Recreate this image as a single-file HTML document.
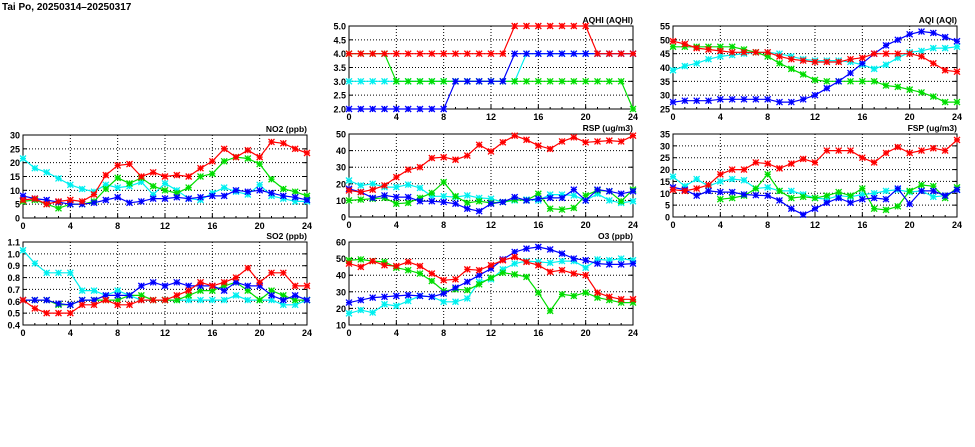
<!DOCTYPE html>
<html><head><meta charset="utf-8"><style>
html,body{margin:0;padding:0;background:#fff;width:975px;height:447px;overflow:hidden}
svg text{font-family:"Liberation Sans",sans-serif;font-weight:bold;fill:#000}
</style></head><body>
<svg id="s" width="975" height="447" xmlns="http://www.w3.org/2000/svg">
<text x="2" y="10" font-size="10" font-weight="normal">Tai Po, 20250314–20250317</text>
</svg>
<script>
var N=null;
var panels=[
{x:23,y:135,lab:"NO2 (ppb)",min:0,max:30,step:5,dec:0,d:{
c:[21.5,18,16.5,14.3,12,10.5,9.5,12,11,11.5,13,8.5,12.5,10,7,6.5,9,11,9.5,8.5,12,8,7,6,6],
g:[6,6.5,5,3.5,5,5,6,10.5,14.5,12.5,14.5,11.5,10,9,11,15,16,20.5,22,21.5,19.5,14,10.5,9.5,8],
b:[8,7,6.5,5.7,5,5,5.5,6.5,7.5,5.5,6,7,7,7.5,7,7.5,8,8,10,9.5,10,9,8,7.5,6.5],
r:[6.5,7,5,6,6.5,6,8.5,15.5,19,19.5,15,16.5,15,15.5,15,18,20.5,25,22,24.5,22,27.5,27,25,23.5]}},
{x:23,y:242,lab:"SO2 (ppb)",min:0.4,max:1.1,step:0.1,dec:1,d:{
c:[1.03,.92,.84,.84,.84,.69,.69,.65,.69,.65,.61,.61,.61,.61,.61,.61,.61,.61,.65,.61,.61,.61,.57,.57,.61],
g:[.61,.61,.61,.57,.57,.61,.61,.61,.61,.65,.65,.61,.61,.61,.65,.69,.69,.73,.76,.69,.61,.69,.65,.61,.61],
b:[.61,.61,.61,.58,.57,.61,.61,.65,.65,.65,.73,.76,.73,.76,.73,.73,.73,.69,.76,.73,.73,.65,.61,.65,.61],
r:[.61,.54,.5,.5,.5,.57,.57,.61,.57,.57,.61,.61,.61,.65,.69,.76,.73,.76,.80,.88,.76,.84,.84,.73,.73]}},
{x:349,y:26,lab:"AQHI (AQHI)",min:2,max:5,step:0.5,dec:1,d:{
c:[3,3,3,3,3,3,3,3,3,3,3,3,3,3,3,4,4,4,4,4,4,4,4,4,4],
g:[4,4,4,4,3,3,3,3,3,3,3,3,3,3,3,3,3,3,3,3,3,3,3,3,2],
b:[2,2,2,2,2,2,2,2,2,3,3,3,3,3,4,4,4,4,4,4,4,4,4,4,4],
r:[4,4,4,4,4,4,4,4,4,4,4,4,4,4,5,5,5,5,5,5,5,4,4,4,4]}},
{x:349,y:134,lab:"RSP (ug/m3)",min:0,max:50,step:10,dec:0,d:{
c:[22,19,20,18,18,19.5,17.5,12.5,12.5,12,13,11.5,11,9,10,10.5,10,13.5,13.5,13,10,14,10,8.5,9.5],
g:[10,10.5,11,11.5,8,8.5,11.5,14.5,21,12.5,8.5,9.5,8.5,9,10.5,10,14,5,4.5,5.5,13,16,15.5,9.5,16.5],
b:[17,15,11.5,13,12,12,9.5,9.5,9,8,5,3.5,8,9,12,10,11,11.5,11.5,16.5,10,16.5,15.5,14,15.5],
r:[16,15,16.5,19,24,28.5,30,35.5,36,34.5,37,43.5,39.5,45,49,46.5,43,41,45.5,48,45,45.5,46,45.5,49]}},
{x:349,y:242,lab:"O3 (ppb)",min:10,max:60,step:10,dec:0,d:{
c:[17,19,17.5,22.5,21.5,24.5,27.5,27,24,24,26,36,37.5,43.5,47,48.5,48,47.5,48.5,48.5,44.5,49.5,49,50,49],
g:[49,49.5,48.5,48,44.5,43,41,36.5,30.5,31.5,31,34.5,38.5,41.5,40.5,39,29.5,18.5,28.5,27.5,29.5,26.5,25,23.5,23.5],
b:[23.5,25,26.5,27,27.5,28,27.5,27,29,32.5,36,40,44,49.5,54,56,57,55.5,53,50,49,47,46.5,46.5,47],
r:[47,45,48.5,46,45.5,48,45.5,41,37,37.5,43.5,43,46,49,51,48,46,42,43,41,40,29.5,27,25.5,25.5]}},
{x:673,y:26,lab:"AQI (AQI)",min:25,max:55,step:5,dec:0,d:{
c:[39,40.5,41.5,43,44,44.5,45,45.5,45.5,45,44,43,42.5,42.5,42.5,42,41,39.5,41,43.5,45.5,46,47,47,47.5],
g:[47.5,47.5,47.5,47.5,47.5,47.5,46.5,45.5,44,41.5,39.5,37.5,35.5,35,35,35,35,35,33.5,33,32,31,29.5,27.5,27.5],
b:[27.5,28,28,28,28.5,28.5,28.5,28.5,28.5,27.5,27.5,28.5,30,32.5,35,38,41.5,45,48,50,52,53,52.5,51,49.5],
r:[49.5,48.5,47,46.5,46,45.5,45.5,45.5,45.5,44,43,42.5,42,42,42,43,43.5,45,45,45,45,44,41.5,39,38.5]}},
{x:673,y:134,lab:"FSP (ug/m3)",min:0,max:35,step:5,dec:0,d:{
c:[17,13,16,13,15,16,15.5,12,12.5,11,11,9.5,8,7.5,9,8.5,9.5,10,11,11.5,10.5,11,8.5,9,11.5],
g:[N,N,N,N,7.5,8,9,12,18,11,8,8.5,8,9,10.5,9,12,3.5,3,4.5,11,13.5,13,8,12.5],
b:[12.5,11.5,9,11,10.5,10.5,9.5,9.2,9,7,3.5,1,3.5,6,8,6,7.5,8,7.5,12,5.5,11,11,9,11.5],
r:[11.5,11,12,13.5,18,20,20,23,22.5,20.5,22.5,24.5,23,28,28,28,25,23,27,29.5,27,28,29,28,32.5]}}
];
var W=284,H=83,col={c:"#00f0f0",g:"#00dd00",b:"#0000ff",r:"#ff0000"};
var o="";
panels.forEach(function(p){
 var X=function(i){return p.x+i*W/24},Y=function(v){return p.y+H-(v-p.min)/(p.max-p.min)*H};
 var n=Math.round((p.max-p.min)/p.step);
 for(var k=0;k<=n;k++){var v=p.min+k*p.step,y=Y(v);
  if(k>0&&k<n)o+='<line x1="'+p.x+'" x2="'+(p.x+W)+'" y1="'+y+'" y2="'+y+'" stroke="#000" stroke-width="1" stroke-dasharray="1,2"/>';
  o+='<line x1="'+p.x+'" x2="'+(p.x+4)+'" y1="'+y+'" y2="'+y+'" stroke="#000"/><line x1="'+(p.x+W-4)+'" x2="'+(p.x+W)+'" y1="'+y+'" y2="'+y+'" stroke="#000"/>';
  o+='<text x="'+(p.x-3)+'" y="'+(y+3.5)+'" font-size="9" text-anchor="end">'+v.toFixed(p.dec)+'</text>';}
 for(var h=0;h<=24;h+=4){var x=X(h);
  if(h>0&&h<24)o+='<line x1="'+x+'" x2="'+x+'" y1="'+p.y+'" y2="'+(p.y+H)+'" stroke="#000" stroke-dasharray="1,2"/>';
  o+='<text x="'+x+'" y="'+(p.y+H+11)+'" font-size="9" text-anchor="middle">'+h+'</text>';}
 for(var h=0;h<=24;h++){var x=X(h);o+='<line x1="'+x+'" x2="'+x+'" y1="'+(p.y+H)+'" y2="'+(p.y+H-(h%4?2:4))+'" stroke="#000"/>';}
 o+='<rect x="'+p.x+'" y="'+p.y+'" width="'+W+'" height="'+H+'" fill="none" stroke="#000"/>';
 o+='<text x="'+(p.x+W)+'" y="'+(p.y-3)+'" font-size="8.5" text-anchor="end">'+p.lab+'</text>';
 ["c","g","b","r"].forEach(function(s){var a=p.d[s],c=col[s],pts=[];
  var seg="";
  for(var i=0;i<25;i++){if(a[i]==null){if(pts.length>1)seg+='<polyline points="'+pts.join(" ")+'" fill="none" stroke="'+c+'" stroke-width="1.2"/>';pts=[];continue;}pts.push(X(i).toFixed(1)+","+Y(a[i]).toFixed(1));}
  if(pts.length>1)seg+='<polyline points="'+pts.join(" ")+'" fill="none" stroke="'+c+'" stroke-width="1.2"/>';
  o+=seg;
  for(var i=0;i<25;i++){if(a[i]==null)continue;var x=X(i),y=Y(a[i]),r=3;
   o+='<path d="M'+(x-r)+' '+(y-r)+'L'+(x+r)+' '+(y+r)+'M'+(x-r)+' '+(y+r)+'L'+(x+r)+' '+(y-r)+'M'+(x-r)+' '+y+'L'+(x+r)+' '+y+'M'+x+' '+(y-r)+'L'+x+' '+(y+r)+'" stroke="'+c+'" stroke-width="1.3" fill="none"/>';}
 });
});
document.getElementById("s").insertAdjacentHTML("beforeend",o);
</script>
</body></html>
